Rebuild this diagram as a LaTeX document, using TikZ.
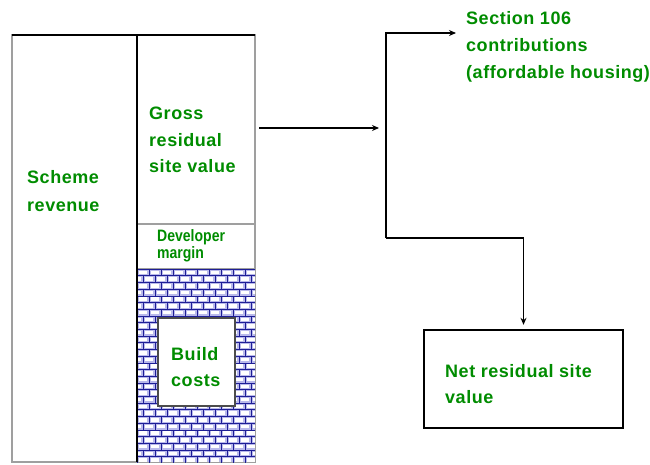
\documentclass[tikz,border=0pt]{standalone}
\usepackage{fontspec}
\setmainfont[LetterSpace=3]{Liberation Sans}
\newfontfamily\narrowfont[FakeStretch=0.85]{Liberation Sans}
\usetikzlibrary{arrows.meta}
\definecolor{txtgreen}{RGB}{0,140,0}
\definecolor{bricknavy}{RGB}{30,30,150}
\definecolor{bricklav}{RGB}{185,185,235}
\begin{document}
\begin{tikzpicture}[x=1pt,y=-1pt,
  lbl/.style={anchor=north west, inner sep=0pt, align=left, text=txtgreen,
    font=\fontsize{18}{#1}\selectfont\bfseries},
  cell/.style={draw=gray!75, line width=1.5pt, inner sep=0pt, outer sep=0pt},
  conn/.style={draw=black, line width=1.8pt},
  tip/.style={-{Stealth[length=7pt,width=6pt]}}]
\useasboundingbox (0,0) rectangle (650,464);
% column cells
\node[cell, minimum width=125pt, minimum height=427pt] (scheme) at (74.5,248.5) {};
\node[cell, minimum width=118pt, minimum height=189pt] (gross) at (196,129.5) {};
\node[cell, minimum width=118pt, minimum height=45pt] (margin) at (196,246.5) {};
\node[cell, minimum width=118pt, minimum height=193pt] (bricks) at (196,365.5) {};
% brick pattern
\begin{scope}
  \clip (bricks.north west) rectangle (bricks.south east);
  \fill[bricklav] (bricks.north west) rectangle (bricks.south east);
  \foreach \r in {0,...,29}{
    \pgfmathsetmacro{\yy}{269+6.7*\r}
    \pgfmathsetmacro{\off}{mod(\r,2)*6}
    \draw[bricknavy, line width=0.6pt] (137,\yy) -- (255,\yy);
    \foreach \c in {-1,...,10}{
      \pgfmathsetmacro{\xx}{137+\off+12*\c}
      \fill[white] (\xx+1.8,\yy+1.6) rectangle (\xx+10.2,\yy+5.1);
      \draw[bricknavy, line width=0.9pt] (\xx,\yy) -- (\xx,\yy+6.7);
    }
  }
\end{scope}
% darker top edge and divider
\draw[conn, line width=1.6pt] (scheme.north west) -- (gross.north east);
\draw[conn, line width=1.6pt] (scheme.north east) -- (scheme.south east);
% build costs inner box
\node[draw=black!70, fill=white, line width=1.5pt, inner sep=0pt,
      minimum width=77pt, minimum height=88pt] (build) at (196.5,362) {};
% net residual box
\node[draw=black, fill=white, line width=2.4pt, inner sep=0pt,
      minimum width=199pt, minimum height=98pt] (net) at (523.5,379) {};
% labels
\node[lbl=28] (tscheme) at (27,170) {Scheme\\revenue};
\node[lbl=26.5] (tgross) at (149,107) {Gross\\residual\\site value};
\node[anchor=north west, inner sep=0pt, align=left, text=txtgreen,
      font=\narrowfont\fontsize{16.5}{17}\selectfont\bfseries] (tmargin) at (157,229.5) {Developer\\margin};
\node[lbl=26] (tbuild) at (171,347) {Build\\costs};
\node[lbl=26] (tnet) at (445,364) {Net residual site\\value};
\node[lbl=27] (ts106) at (466,11) {Section 106\\contributions\\(affordable housing)};
% connectors
\coordinate (a0) at (259,128);
\coordinate (a1) at (379,128);
\coordinate (jt) at (386,33);
\coordinate (jb) at (386,238);
\coordinate (s0) at (456,33);
\draw[conn, tip] (a0) -- (a1);
\draw[conn, tip] (jb) -- (jt) -- (s0);
\draw[conn, tip] (jb) -- (jb -| net.north) -- ([yshift=4pt]net.north);
\end{tikzpicture}
\end{document}
